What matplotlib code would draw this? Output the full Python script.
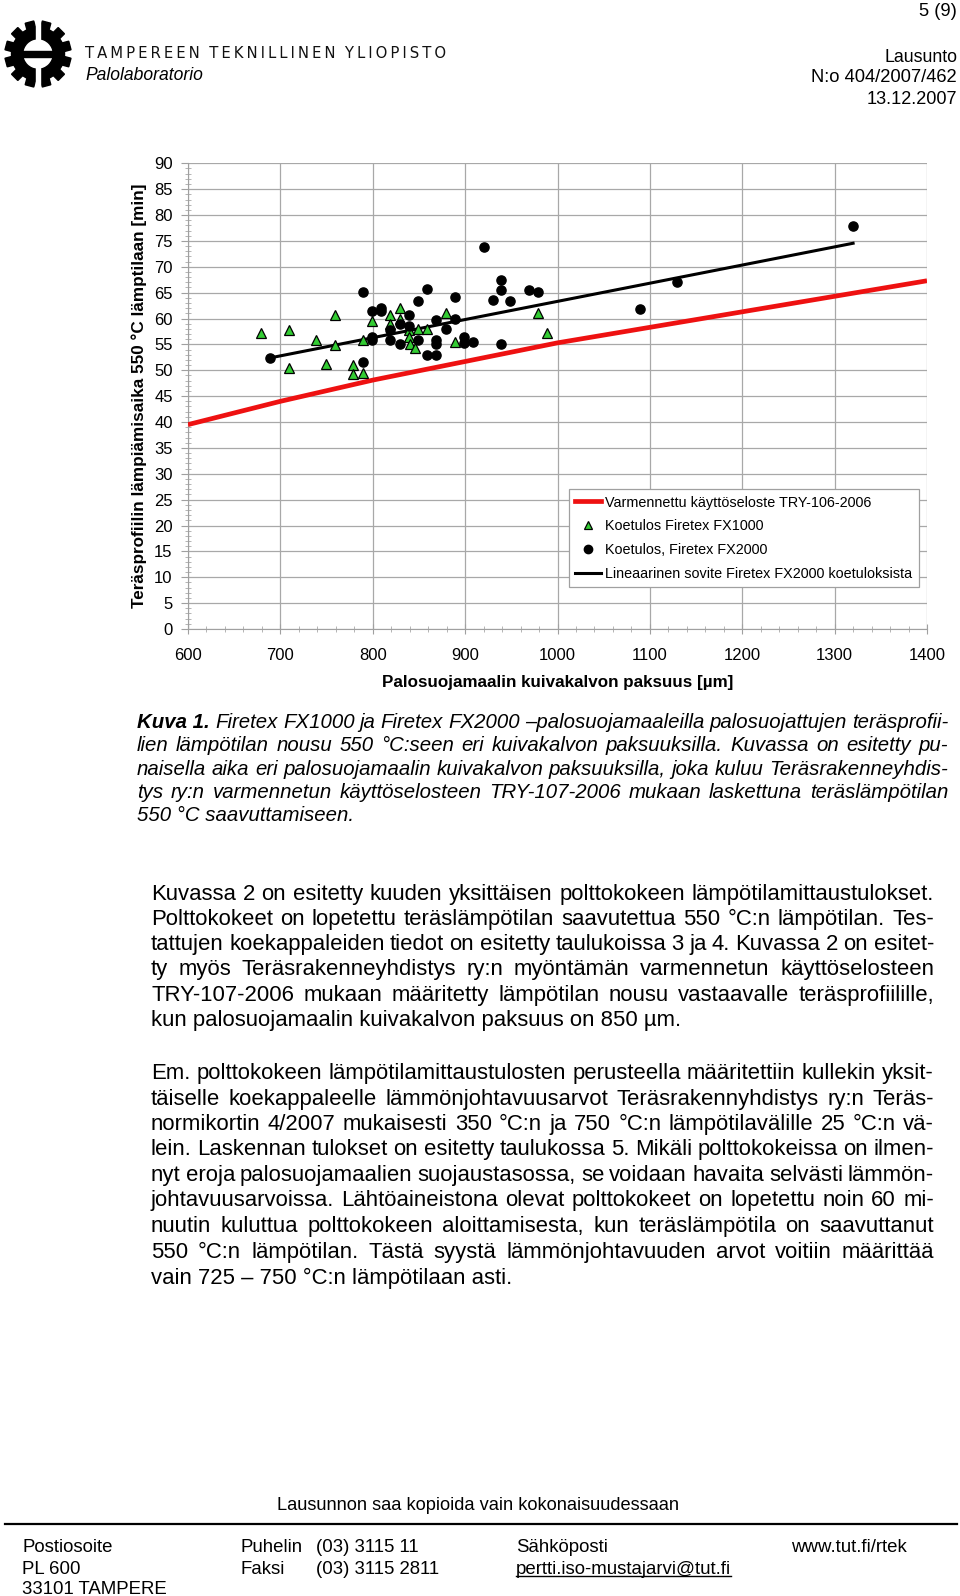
import numpy as np
import matplotlib
matplotlib.use("Agg")
import matplotlib.pyplot as plt
from matplotlib.patches import Rectangle, Wedge
from matplotlib.lines import Line2D
from matplotlib import transforms

# ---------------- data ----------------
fx1000_x = [679, 709, 709, 739, 749, 759, 759, 779, 779, 789, 789, 799, 819, 819,
            829, 829, 839, 839, 840, 846, 849, 859, 879, 889, 979, 989]
fx1000_y = [57.2, 57.8, 50.5, 55.8, 51.3, 60.7, 54.9, 51.0, 49.2, 49.5, 55.9, 59.6,
            60.7, 58.9, 62.0, 59.9, 57.8, 56.5, 55.0, 54.4, 57.9, 57.9, 61.0, 55.4,
            61.0, 57.2]

fx2000_x = [689, 789, 789, 799, 809, 809, 799, 799, 819, 819, 829, 829, 839, 839,
            849, 849, 859, 859, 869, 869, 869, 869, 879, 889, 889, 899, 899, 909,
            920, 930, 939, 939, 949, 939, 969, 979, 1089, 1129, 1320]
fx2000_y = [52.4, 65.1, 51.6, 61.4, 62.1, 61.4, 56.5, 55.8, 57.7, 55.9, 58.9, 55.1,
            60.7, 58.5, 63.4, 55.8, 65.7, 52.9, 52.9, 59.7, 55.8, 55.0, 58.0, 64.2,
            59.9, 56.5, 55.3, 55.4, 73.9, 63.6, 67.4, 65.5, 63.4, 55.0, 65.5, 65.1,
            61.8, 67.05, 77.8]

red_x = [600, 700, 800, 900, 1000, 1100, 1200, 1300, 1400]
red_y = [39.5, 44.0, 48.1, 51.7, 55.3, 58.3, 61.3, 64.3, 67.3]

fit_x = [689, 1320]
fit_y = [52.4, 74.55]

x_ticks = [600, 700, 800, 900, 1000, 1100, 1200, 1300, 1400]
y_ticks = list(range(0, 95, 5))

legend_labels = ["Varmennettu käyttöseloste TRY-106-2006",
                 "Koetulos Firetex FX1000",
                 "Koetulos, Firetex FX2000",
                 "Lineaarinen sovite Firetex FX2000 koetuloksista"]

# ---------------- figure ----------------
W, H = 960, 1596
fig = plt.figure(figsize=(W / 100, H / 100), dpi=100)
fig.patch.set_facecolor("white")
renderer = fig.canvas.get_renderer()

SANS = ["Liberation Sans", "DejaVu Sans"]


def ftext(x, y, s, **kw):
    kw.setdefault("family", SANS)
    kw.setdefault("va", "center")
    return fig.text(x / W, 1 - y / H, s, **kw)


def width_of(t):
    return t.get_window_extent(renderer).width


def fit(t, target, vertical=False):
    bb = t.get_window_extent(renderer)
    cur = bb.height if vertical else bb.width
    t.set_fontsize(t.get_fontsize() * target / cur)
    return t


def measure(s, **kw):
    kw.setdefault("family", SANS)
    t = fig.text(0, 0, s, **kw)
    w = width_of(t)
    t.remove()
    return w


def text_line(x0, x1, y, s, justify, size, **kw):
    em = size * 100 / 72
    yb = y + 0.34 * em
    if not justify:
        ftext(x0, yb, s, fontsize=size, va="baseline", **kw)
        return
    words = s.split(" ")
    ws = [measure(w, fontsize=size, **kw) for w in words]
    gap = (x1 - x0 - sum(ws)) / (len(words) - 1)
    x = x0
    for w, wd in zip(words, ws):
        ftext(x, yb, w, fontsize=size, va="baseline", **kw)
        x += wd + gap


# ---------------- header ----------------
fit(ftext(957, 12, "5 (9)", ha="right", fontsize=13), 38)
fit(ftext(957, 57, "Lausunto", ha="right", fontsize=13), 73)
fit(ftext(957, 78, "N:o 404/2007/462", ha="right", fontsize=13), 146)
fit(ftext(957, 99, "13.12.2007", ha="right", fontsize=13), 90)
title = "\u2009".join("TAMPEREEN") + "  " + "\u2009".join("TEKNILLINEN") + "  " + \
    "\u2009".join("YLIOPISTO")
fit(ftext(85, 53, title, fontsize=11, family=["DejaVu Sans"], stretch="condensed",
          color="#111111"), 358)
fit(ftext(85, 76, "Palolaboratorio", fontsize=12.5, style="italic"), 118)

# logo (gear)
lax = fig.add_axes([3 / W, 1 - 88 / H, 70 / W, 68 / H])
lax.set_xlim(-1, 1)
lax.set_ylim(-1, 1)
lax.set_aspect("equal")
lax.axis("off")
for k in range(12):
    ang = np.deg2rad(k * 30 + 15)
    t = transforms.Affine2D().rotate(ang) + lax.transData
    lax.add_patch(Rectangle((0.55, -0.13), 0.42, 0.26, color="black", transform=t))
lax.add_patch(Wedge((0, 0), 0.78, 0, 360, width=0.33, color="black"))
lax.add_patch(Rectangle((-0.06, -1.05), 0.12, 2.1, color="white"))
lax.add_patch(Rectangle((-0.62, -0.1), 1.24, 0.2, color="black"))

# ---------------- chart ----------------
L, R = 188, 927
T, B = 163.3, 629
ax = fig.add_axes([L / W, 1 - B / H, (R - L) / W, (B - T) / H])
ax.set_xlim(600, 1400)
ax.set_ylim(0, 90)
ax.set_xticks(x_ticks)
ax.set_yticks(y_ticks)
ax.set_xticks(np.arange(600, 1401, 20), minor=True)
ax.set_yticks(np.arange(0, 91, 1), minor=True)
ax.grid(True, which="major", color="#a8a8a8", lw=0.9)
ax.set_axisbelow(True)
for s in ["top", "right"]:
    ax.spines[s].set_visible(False)
for s in ["left", "bottom"]:
    ax.spines[s].set_color("#a0a0a0")
ax.tick_params(axis="both", which="major", colors="#a0a0a0", labelcolor="black",
               labelsize=12)
ax.tick_params(axis="y", which="major", direction="out", length=5, pad=6)
ax.tick_params(axis="x", which="major", direction="inout", length=7, pad=10)
ax.tick_params(axis="both", which="minor", direction="inout", length=4,
               color="#a8a8a8")
for lab in ax.get_xticklabels() + ax.get_yticklabels():
    lab.set_family(SANS)

ax.plot(red_x, red_y, color="#ee1111", lw=3.4, solid_capstyle="butt", zorder=3)
ax.plot(fit_x, fit_y, color="black", lw=2.2, zorder=4)
ax.plot(fx1000_x, fx1000_y, ls="none", marker="^", ms=7, mfc="#33cc33",
        mec="black", mew=0.9, zorder=5)
ax.plot(fx2000_x, fx2000_y, ls="none", marker="o", ms=6.6, mfc="black",
        mec="black", zorder=5)

handles = [Line2D([], [], color="#ee1111", lw=3.4),
           Line2D([], [], ls="none", marker="^", ms=6, mfc="#33cc33", mec="black", mew=0.9),
           Line2D([], [], ls="none", marker="o", ms=6, mfc="black", mec="black"),
           Line2D([], [], color="black", lw=2.2)]
leg = ax.legend(handles, legend_labels, loc="upper right",
                bbox_to_anchor=((919 - L) / (R - L), (B - 489) / (B - T)),
                fancybox=False, framealpha=1, edgecolor="#a0a0a0",
                prop={"family": SANS, "size": 10.4}, handlelength=1.8,
                handletextpad=0.3, labelspacing=0.68, borderpad=0.45,
                borderaxespad=0)
leg.get_frame().set_linewidth(0.9)

fit(ftext(139, 396, "Teräsprofiilin lämpiämisaika 550 °C lämptilaan [min]",
          rotation=90, ha="center", fontsize=11.5, weight="bold"), 426, vertical=True)
fit(ftext(558, 682, "Palosuojamaalin kuivakalvon paksuus [µm]", ha="center",
          fontsize=12.5, weight="bold"), 352)

# ---------------- caption ----------------
CAP = 14.7
cap_y = [721, 744, 768, 791, 814]
kt = ftext(137, cap_y[0] + 0.34 * CAP * 100 / 72, "Kuva 1.", fontsize=CAP,
           weight="bold", style="italic", va="baseline")
kx = 137 + width_of(kt)
cap = ["Firetex FX1000 ja Firetex FX2000 –palosuojamaaleilla palosuojattujen teräsprofii-",
       "lien lämpötilan nousu 550 °C:seen eri kuivakalvon paksuuksilla. Kuvassa on esitetty pu-",
       "naisella aika eri palosuojamaalin kuivakalvon paksuuksilla, joka kuluu Teräsrakenneyhdis-",
       "tys ry:n varmennetun käyttöselosteen TRY-107-2006 mukaan laskettuna teräslämpötilan",
       "550 °C saavuttamiseen."]
for i, (yy, s) in enumerate(zip(cap_y, cap)):
    x0 = kx + 6 if i == 0 else 137
    text_line(x0, 948, yy, s, i < len(cap) - 1, CAP, style="italic")

# ---------------- body ----------------
BODY = 15.9
p1 = ["Kuvassa 2 on esitetty kuuden yksittäisen polttokokeen lämpötilamittaustulokset.",
      "Polttokokeet on lopetettu teräslämpötilan saavutettua 550 °C:n lämpötilan. Tes-",
      "tattujen koekappaleiden tiedot on esitetty taulukoissa 3 ja 4. Kuvassa 2 on esitet-",
      "ty myös Teräsrakenneyhdistys ry:n myöntämän varmennetun käyttöselosteen",
      "TRY-107-2006 mukaan määritetty lämpötilan nousu vastaavalle teräsprofiilille,",
      "kun palosuojamaalin kuivakalvon paksuus on 850 µm."]
p1_y = [892, 917, 942, 967, 993, 1018]
p2 = ["Em. polttokokeen lämpötilamittaustulosten perusteella määritettiin kullekin yksit-",
      "täiselle koekappaleelle lämmönjohtavuusarvot Teräsrakennyhdistys ry:n Teräs-",
      "normikortin 4/2007 mukaisesti 350 °C:n ja 750 °C:n lämpötilavälille 25 °C:n vä-",
      "lein. Laskennan tulokset on esitetty taulukossa 5. Mikäli polttokokeissa on ilmen-",
      "nyt eroja palosuojamaalien suojaustasossa, se voidaan havaita selvästi lämmön-",
      "johtavuusarvoissa. Lähtöaineistona olevat polttokokeet on lopetettu noin 60 mi-",
      "nuutin kuluttua polttokokeen aloittamisesta, kun teräslämpötila on saavuttanut",
      "550 °C:n lämpötilan. Tästä syystä lämmönjohtavuuden arvot voitiin määrittää",
      "vain 725 – 750 °C:n lämpötilaan asti."]
p2_y = [1071, 1097, 1122, 1147, 1173, 1198, 1224, 1250, 1276]
for lines, ys in [(p1, p1_y), (p2, p2_y)]:
    for i, (yy, s) in enumerate(zip(ys, lines)):
        text_line(151, 934, yy, s, i < len(lines) - 1, BODY)

# ---------------- footer ----------------
fit(ftext(478, 1505, "Lausunnon saa kopioida vain kokonaisuudessaan", ha="center",
          fontsize=13), 403)
fig.add_artist(Line2D([5 / W, 957 / W], [1 - 1524 / H, 1 - 1524 / H],
                      color="black", lw=1.6))
foot = [(22, 1547, "Postiosoite"), (22, 1569, "PL 600"), (22, 1589, "33101 TAMPERE"),
        (241, 1547, "Puhelin"), (316, 1547, "(03) 3115 11"),
        (241, 1569, "Faksi"), (316, 1569, "(03) 3115 2811"),
        (516, 1547, "Sähköposti"), (791, 1547, "www.tut.fi/rtek")]
for x, y, s in foot:
    ftext(x, y, s, fontsize=13.4)
em = ftext(516, 1569, "pertti.iso-mustajarvi@tut.fi", fontsize=13.4)
bb = em.get_window_extent(renderer)
fig.add_artist(Line2D([bb.x0 / W, bb.x1 / W], [(bb.y0 + 2) / H, (bb.y0 + 2) / H],
                      color="black", lw=1.0))

fig.savefig("out.png", dpi=100, facecolor="white")
